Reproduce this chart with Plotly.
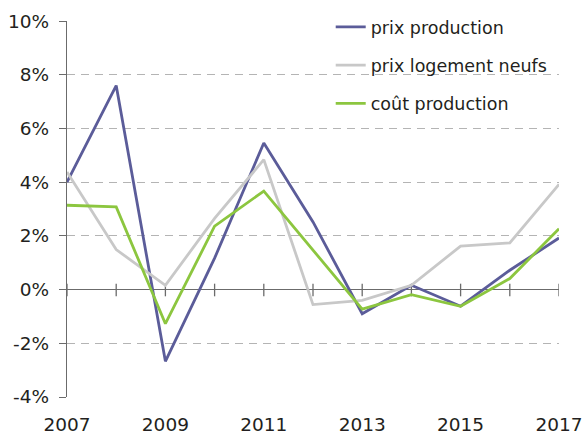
import plotly.graph_objects as go

years = [2007, 2008, 2009, 2010, 2011, 2012, 2013, 2014, 2015, 2016, 2017]
prix_production = [4.0, 7.6, -2.67, 1.17, 5.46, 2.52, -0.9, 0.16, -0.62, 0.72, 1.92]
prix_logement_neufs = [4.38, 1.49, 0.16, 2.65, 4.84, -0.56, -0.4, 0.16, 1.62, 1.74, 3.92]
cout_production = [3.14, 3.08, -1.27, 2.36, 3.67, 1.46, -0.73, -0.19, -0.62, 0.41, 2.27]

y_ticks = [-4, -2, 0, 2, 4, 6, 8, 10]
x_labels = [2007, 2009, 2011, 2013, 2015, 2017]

series = [
    ('prix production', prix_production, '#5b5c99'),
    ('prix logement neufs', prix_logement_neufs, '#c8c8c8'),
    ('coût production', cout_production, '#8cc63f'),
]

fig = go.Figure()

for name, vals, color in series:
    fig.add_trace(go.Scatter(x=years, y=vals, name=name, mode='lines',
                             legendgroup=name,
                             line={'color': color, 'width': 2.8}))

# petites graduations traversant l'axe a 0
for yr in years:
    fig.add_shape(type='line', x0=yr, x1=yr, y0=-0.25, y1=0.22,
                  line={'color': '#6b6b6b', 'width': 1.3}, layer='below')

fig.update_layout(
    width=585, height=436,
    plot_bgcolor='#ffffff', paper_bgcolor='#ffffff',
    font={'family': 'DejaVu Sans, sans-serif', 'size': 18.5, 'color': '#231f20'},
    margin={'l': 67, 'r': 26, 't': 5, 'b': 39},
    legend={'x': 0.536, 'y': 0.99, 'xanchor': 'left', 'yanchor': 'top',
            'bgcolor': 'rgba(0,0,0,0)', 'tracegroupgap': 12.5,
            'font': {'size': 17.5, 'color': '#231f20'}},
    xaxis={'range': [years[0], years[-1]], 'tickvals': x_labels,
           'showgrid': False, 'zeroline': False, 'showline': False,
           'ticks': '', 'ticklabelstandoff': 14, 'automargin': False,
           'fixedrange': True},
    yaxis={'range': [-4, 10], 'tickvals': y_ticks, 'domain': [0, 0.959],
           'ticktext': [f'{v}%' for v in y_ticks],
           'showgrid': True, 'gridcolor': '#b4b4b4', 'griddash': '8px,6px',
           'gridwidth': 1,
           'zeroline': True, 'zerolinecolor': '#6b6b6b', 'zerolinewidth': 1.3,
           'showline': True, 'linecolor': '#6b6b6b', 'linewidth': 1.3,
           'ticks': 'outside', 'ticklen': 7, 'tickcolor': '#6b6b6b',
           'tickwidth': 1.3, 'ticklabelstandoff': 6, 'automargin': False,
           'fixedrange': True},
)

fig.write_html("out.html", config=dict(displayModeBar=False),
               post_script="document.body.style.margin='0';")
